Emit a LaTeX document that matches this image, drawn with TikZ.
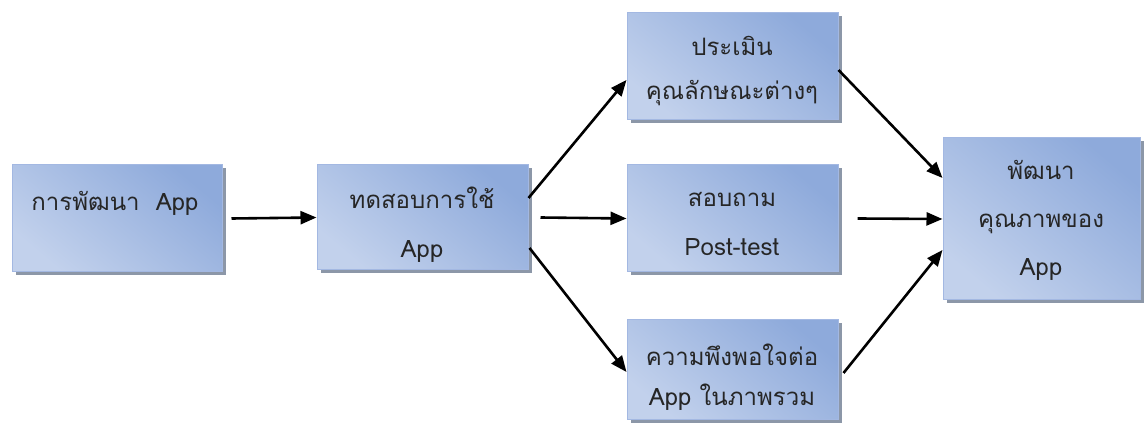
\documentclass[tikz,border=0pt]{standalone}
\usepackage{fontspec}
\setmainfont[Script=Thai]{Loma}
\usetikzlibrary{arrows.meta,shadows,calc}
\definecolor{bdark}{HTML}{8EAADB}
\definecolor{blight}{HTML}{DFE6F4}
\definecolor{bmid}{HTML}{C2D1EC}
\definecolor{bborder}{HTML}{A3B8E2}
\definecolor{shad}{HTML}{8C97A8}
\begin{document}
\begin{tikzpicture}[x=1pt,y=-1pt,
  box/.style={draw=bborder, line width=1pt, top color=bdark, middle color=blight, bottom color=bmid, shading angle=-40,
    drop shadow={shadow xshift=3.5pt, shadow yshift=-3.5pt, fill=shad, opacity=1}, inner sep=0pt},
  lbl/.style={font=\fontsize{24}{46}\selectfont, align=center, inner sep=0pt, text=black!85},
  arr/.style={line width=2.6pt, -{Triangle[length=16pt,width=13pt]}}]
\fill[white] (0,0) rectangle (1144,430);
\useasboundingbox (0,0) rectangle (1144,430);
\node[box, minimum width=210pt, minimum height=107pt] (b1) at (117,218.5) {};
\node[box, minimum width=211pt, minimum height=105pt] (b2) at (422.5,217.5) {};
\node[box, minimum width=211pt, minimum height=107pt] (b3) at (732.5,66.5) {};
\node[box, minimum width=211pt, minimum height=107pt] (b4) at (732.5,218.5) {};
\node[box, minimum width=211pt, minimum height=100pt] (b5) at (732.5,370) {};
\node[box, minimum width=197pt, minimum height=162pt] (b6) at (1041.5,219) {};
\node[lbl, anchor=base] (t1) at (115,211) {การพัฒนา\ \ App};
\node[lbl, font=\fontsize{24}{49}\selectfont] (t2) at (422,224.5) {ทดสอบการใช้\\App};
\node[lbl, font=\fontsize{24}{44}\selectfont] (t3) at (732,71) {ประเมิน\\คุณลักษณะต่างๆ};
\node[lbl, font=\fontsize{24}{49}\selectfont] (t4) at (732,223.5) {สอบถาม\\Post-test};
\node[lbl, font=\fontsize{24}{40}\selectfont] (t5) at (732,377) {ความพึงพอใจต่อ\\App ในภาพรวม};
\node[lbl, font=\fontsize{24}{48}\selectfont] (t6) at (1041,220) {พัฒนา\\คุณภาพของ\\App};
\draw[arr] ($(b1.east)+(9,0)$) -- (b2.west);
\draw[arr] ($(b2.east)+(0,-19.5)$) -- ($(b3.west)+(0,13.5)$);
\draw[arr] ($(b2.east)+(12,0)$) -- (b4.west);
\draw[arr] ($(b2.east)+(1,30.5)$) -- ($(b5.west)+(0,2)$);
\draw[arr] ($(b3.east)+(0,3.5)$) -- ($(b6.west)+(0,-41)$);
\draw[arr] ($(b4.east)+(19,0)$) -- (b6.west);
\draw[arr] ($(b5.east)+(5,3)$) -- ($(b6.west)+(0,31)$);
\end{tikzpicture}
\end{document}
